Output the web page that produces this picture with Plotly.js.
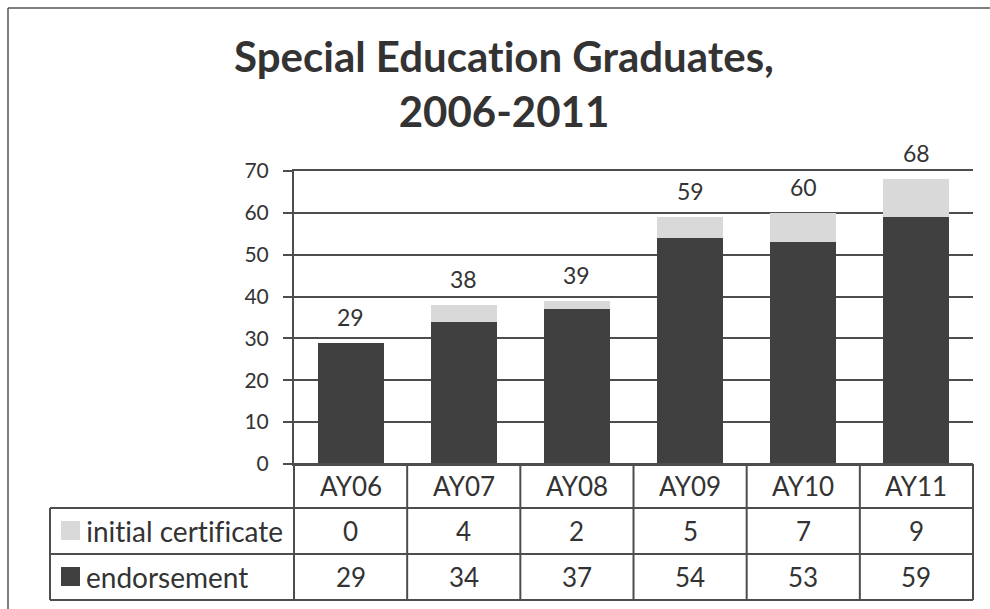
<!DOCTYPE html>
<html>
<head>
<meta charset="utf-8">
<script src="https://cdn.plot.ly/plotly-3.0.1.min.js"></script>
<style>
  html, body { margin: 0; padding: 0; background: #ffffff; }
  #chart { width: 990px; height: 609px; }
  #chart text { font-variant-ligatures: none; font-feature-settings: "liga" 0, "clig" 0; }
</style>
</head>
<body>
<div id="chart"></div>
<script>
// ---- data ----
const categories = ["AY06", "AY07", "AY08", "AY09", "AY10", "AY11"];
const initialCertificate = [0, 4, 2, 5, 7, 9];
const endorsement = [29, 34, 37, 54, 53, 59];
const seriesNames = ["initial certificate", "endorsement"];
const yTicks = [0, 10, 20, 30, 40, 50, 60, 70];
const chartTitle = "Special Education Graduates,<br>2006-2011";

// ---- styles ----
const FONT = "Lato, 'Open Sans', sans-serif";
const TEXT = "#333333";
const DARK = "#404040";
const LIGHT = "#d9d9d9";
const LINE = "#4d4d4d";

const totals = categories.map((c, i) => endorsement[i] + initialCertificate[i]);
const n = categories.length;

// plot area geometry (pixels)
const W = 990, H = 609;
const PL = 294, PR = 973, PT = 171, PB = 464;
const pw = PR - PL, ph = PB - PT;
const px = X => (X - PL) / pw;
const py = Y => (PB - Y) / ph;

// table row boundaries (pixels)
const rowLines = [464, 508, 554, 600];
const tableLeft = 50;

const traces = [
  {
    type: "bar", name: seriesNames[1], x: categories, y: endorsement,
    marker: { color: DARK, line: { width: 0 } }, hoverinfo: "x+y+name"
  },
  {
    type: "bar", name: seriesNames[0], x: categories, y: initialCertificate,
    marker: { color: LIGHT, line: { width: 0 } }, hoverinfo: "x+y+name"
  }
];

const shapes = [];
const annotations = [];

// outer frame
shapes.push({ type: "line", xref: "paper", yref: "paper", x0: px(8), x1: px(995), y0: py(8), y1: py(8), line: { color: "#555", width: 1.5 } });
shapes.push({ type: "line", xref: "paper", yref: "paper", x0: px(8), x1: px(8), y0: py(8), y1: py(615), line: { color: "#555", width: 1.5 } });

// table horizontal lines
shapes.push({ type: "line", xref: "paper", yref: "paper", x0: 0, x1: 1, y0: py(rowLines[0]), y1: py(rowLines[0]), line: { color: LINE, width: 2 } });
for (let k = 1; k < rowLines.length; k++) {
  shapes.push({ type: "line", xref: "paper", yref: "paper", x0: px(tableLeft), x1: 1, y0: py(rowLines[k]), y1: py(rowLines[k]), line: { color: LINE, width: 2 } });
}
// table vertical lines
for (let i = 0; i <= n; i++) {
  shapes.push({ type: "line", xref: "paper", yref: "paper", x0: i / n, x1: i / n, y0: py(rowLines[0]), y1: py(rowLines[3]), line: { color: LINE, width: 2 } });
}
shapes.push({ type: "line", xref: "paper", yref: "paper", x0: px(tableLeft), x1: px(tableLeft), y0: py(rowLines[1]), y1: py(rowLines[3]), line: { color: LINE, width: 2 } });

// legend swatches
shapes.push({ type: "rect", xref: "paper", yref: "paper", x0: px(61), x1: px(80), y0: py(521), y1: py(540), fillcolor: LIGHT, line: { width: 0 } });
shapes.push({ type: "rect", xref: "paper", yref: "paper", x0: px(61), x1: px(80), y0: py(567), y1: py(586), fillcolor: DARK, line: { width: 0 } });

const rowCenter = k => py((rowLines[k] + rowLines[k + 1]) / 2);

// legend labels
annotations.push({ xref: "paper", yref: "paper", x: px(84), y: rowCenter(1), xanchor: "left", yanchor: "middle", text: seriesNames[0], showarrow: false, font: { family: FONT, size: 28, color: TEXT } });
annotations.push({ xref: "paper", yref: "paper", x: px(84), y: rowCenter(2), xanchor: "left", yanchor: "middle", text: seriesNames[1], showarrow: false, font: { family: FONT, size: 28, color: TEXT } });

categories.forEach((c, i) => {
  annotations.push({ xref: "x", yref: "paper", x: c, y: rowCenter(0), xanchor: "center", yanchor: "middle", text: c, showarrow: false, font: { family: FONT, size: 26, color: TEXT } });
  annotations.push({ xref: "x", yref: "paper", x: c, y: rowCenter(1), xanchor: "center", yanchor: "middle", text: String(initialCertificate[i]), showarrow: false, font: { family: FONT, size: 26, color: TEXT } });
  annotations.push({ xref: "x", yref: "paper", x: c, y: rowCenter(2), xanchor: "center", yanchor: "middle", text: String(endorsement[i]), showarrow: false, font: { family: FONT, size: 26, color: TEXT } });
  annotations.push({ xref: "x", yref: "y", x: c, y: totals[i], xanchor: "center", yanchor: "bottom", yshift: 10, text: String(totals[i]), showarrow: false, font: { family: FONT, size: 23, color: TEXT } });
});

const layout = {
  width: W, height: H,
  margin: { l: PL, r: W - PR, t: PT, b: H - PB, pad: 0 },
  paper_bgcolor: "#ffffff",
  plot_bgcolor: "#ffffff",
  barmode: "stack",
  bargap: 0.417,
  showlegend: false,
  title: {
    text: chartTitle,
    x: 504 / W, xanchor: "center", xref: "container",
    y: 1 - 72 / H, yanchor: "middle", yref: "container",
    font: { family: FONT, size: 42, color: TEXT, weight: "bold" }
  },
  xaxis: {
    type: "category", categoryorder: "array", categoryarray: categories,
    range: [-0.5, n - 0.5], showticklabels: false, ticks: "", showgrid: false,
    zeroline: false, showline: true, mirror: true, linecolor: LINE, linewidth: 2,
    fixedrange: true
  },
  yaxis: {
    range: [0, 70], tickvals: yTicks, ticktext: yTicks.map(String),
    ticks: "outside", ticklen: 9, tickwidth: 2, tickcolor: LINE,
    ticklabelstandoff: 10,
    showgrid: true, gridcolor: LINE, gridwidth: 2,
    zeroline: true, zerolinecolor: LINE, zerolinewidth: 2,
    showline: true, linecolor: LINE, linewidth: 2,
    tickfont: { family: FONT, size: 21, color: TEXT }, fixedrange: true
  },
  shapes: shapes,
  annotations: annotations
};

Plotly.newPlot("chart", traces, layout, { displayModeBar: false, staticPlot: true });
</script>
</body>
</html>
